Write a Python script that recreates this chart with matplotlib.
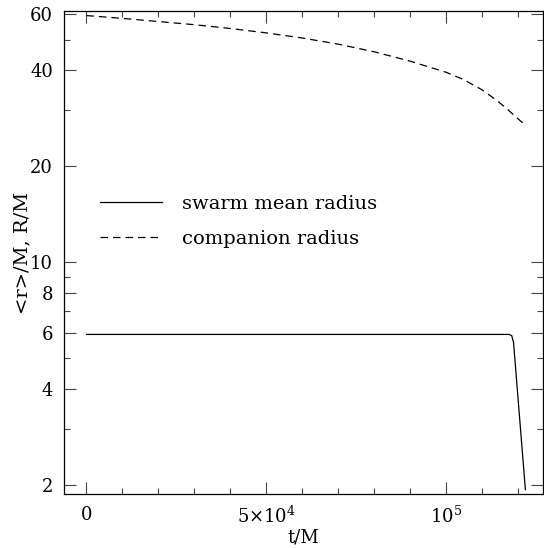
import numpy as np
import matplotlib
matplotlib.use("Agg")
import matplotlib.pyplot as plt
from matplotlib.ticker import FixedLocator, NullFormatter

plt.rcParams['font.family'] = ['DejaVu Serif']
plt.rcParams['mathtext.fontset'] = 'dejavuserif'

# swarm mean radius <r>/M vs t/M
t_swarm = [0, 117500, 118300, 118800, 122100]
r_swarm = [5.93, 5.93, 5.88, 5.6, 1.93]

# companion radius R/M vs t/M
t_comp = [0, 10000, 20000, 30000, 40000, 50000, 60000, 70000, 80000, 90000,
          100000, 105000, 110000, 114000, 117000, 119000, 121000, 122000]
r_comp = [59.5, 58.3, 57.0, 55.7, 54.2, 52.5, 50.6, 48.4, 45.8, 42.8,
          39.5, 37.4, 34.8, 32.3, 30.3, 28.9, 27.6, 27.2]

xticks = [0, 50000, 100000]
xticklabels = ['0', r'$5{\times}10^4$', r'$10^5$']
yticks = [2, 4, 6, 8, 10, 20, 40, 60]
yminor = [3, 5, 7, 9, 30, 50]

fig = plt.figure(figsize=(5.44, 5.48), dpi=100)
ax = fig.add_axes([64/544, 54/548, 479/544, 483/548])

ax.plot(t_swarm, r_swarm, color='black', lw=0.9, label='swarm mean radius')
ax.plot(t_comp, r_comp, color='black', lw=0.9, ls=(0, (6, 4)), label='companion radius')

ax.set_yscale('log')
ax.set_xlim(-6250, 127000)
ax.set_ylim(1.87, 61.5)

ax.yaxis.set_major_locator(FixedLocator(yticks))
ax.set_yticklabels([str(v) for v in yticks])
ax.yaxis.set_minor_locator(FixedLocator(yminor))
ax.yaxis.set_minor_formatter(NullFormatter())
ax.set_xticks(xticks)
ax.set_xticklabels(xticklabels)
ax.set_xticks(np.arange(10000, 130000, 10000), minor=True)

ax.tick_params(which='both', direction='in', top=True, right=True, labelsize=13, width=0.8, color='#444444')
ax.tick_params(which='major', length=8.5)
ax.tick_params(which='minor', length=4.3)
ax.tick_params(axis='x', pad=8.5)
ax.tick_params(axis='y', pad=8)
for s in ax.spines.values():
    s.set_linewidth(0.9)

ax.set_xlabel('t/M', fontsize=13, labelpad=1)
ax.set_ylabel('<r>/M, R/M', fontsize=14, labelpad=-1)

ax.legend(loc='upper left', bbox_to_anchor=(0.038, 0.655), frameon=False, fontsize=14,
          handlelength=3.2, handletextpad=1.05, labelspacing=0.85)

fig.savefig('out.png', dpi=100)
